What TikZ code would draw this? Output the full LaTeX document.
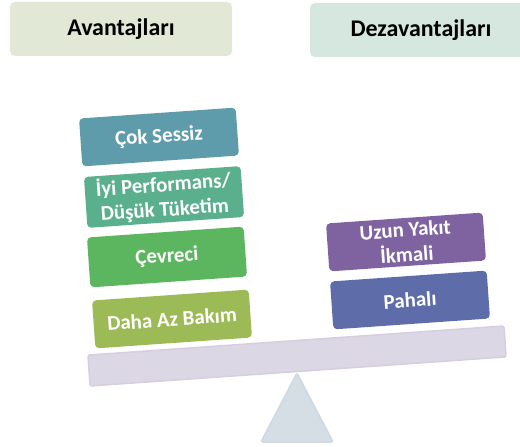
\documentclass[tikz,border=0pt]{standalone}
\usepackage{fontspec}
\setmainfont{Carlito}
\definecolor{hdrA}{HTML}{E1E8D5}
\definecolor{hdrB}{HTML}{D5E7DE}
\definecolor{cA}{HTML}{5E9CAB}
\definecolor{cB}{HTML}{5AAF8C}
\definecolor{cC}{HTML}{5CB660}
\definecolor{cD}{HTML}{9CBB57}
\definecolor{cE}{HTML}{7F63A1}
\definecolor{cF}{HTML}{5E6DAA}
\definecolor{beam}{HTML}{DCD7E4}
\definecolor{beamline}{HTML}{D6CEE0}
\definecolor{tri}{HTML}{D5DEE5}
\definecolor{triline}{HTML}{CDD8E1}
\tikzset{
  hdrbox/.style={rounded corners=5bp, minimum width=222bp, minimum height=54bp, inner sep=0pt,
    font=\bfseries\fontsize{24}{28}\selectfont, text=black},
  itembox/.style={rounded corners=4bp, minimum width=157bp, minimum height=48bp, inner sep=0pt,
    rotate=4, text=white, align=center, font=\bfseries\fontsize{21}{25}\selectfont},
}
\begin{document}
\begin{tikzpicture}[x=1bp,y=-1bp]
\useasboundingbox (0,0) rectangle (520,447);
% headers
\node[hdrbox, fill=hdrA] (adv) at (121,29) {Avantajları};
\node[hdrbox, fill=hdrB] (dis) at (421,30) {Dezavantajları};
% fulcrum
\coordinate (apex) at (297,373);
\coordinate (bl) at (261,442);
\coordinate (br) at (333,442);
\draw[fill=tri, draw=triline, line width=1.5bp, rounded corners=2bp] (apex) -- (br) -- (bl) -- cycle;
% beam
\node[draw=beamline, fill=beam, line width=1.5bp, rounded corners=2bp, minimum width=417bp, minimum height=31bp, inner sep=0pt, rotate=4] (bar) at (297,356) {};
% left items
\node[itembox, fill=cA] (n1) at (159,137) {Çok Sessiz};
\node[itembox, fill=cB, minimum height=51bp] (n2) at (164,197) {İyi Performans/\\Düşük Tüketim};
\node[itembox, fill=cC, minimum height=50bp] (n3) at (167,257) {Çevreci};
\node[itembox, fill=cD] (n4) at (172,319) {Daha Az Bakım};
% right items
\node[itembox, fill=cE] (n5) at (406,242) {Uzun Yakıt\\İkmali};
\node[itembox, fill=cF] (n6) at (410,300) {Pahalı};
\end{tikzpicture}
\end{document}
